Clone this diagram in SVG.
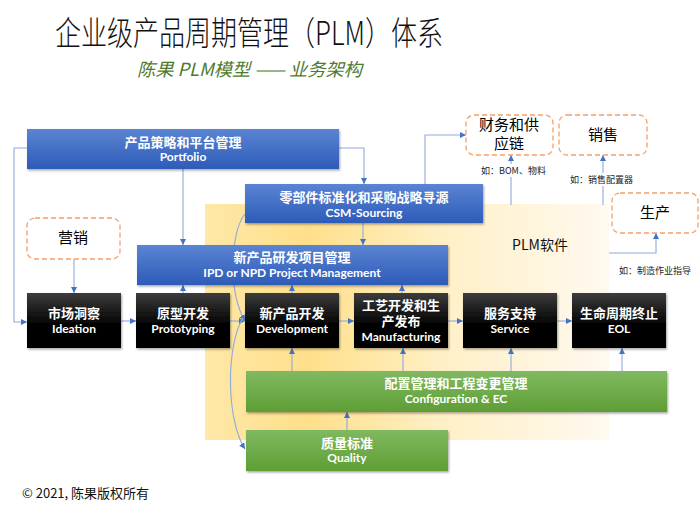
<svg xmlns="http://www.w3.org/2000/svg" width="700" height="512" viewBox="0 0 700 512">
<defs>
<style>
.cn{font-family:"Noto Sans CJK SC",sans-serif;}
.bx{font-family:Lato,"Noto Sans CJK SC",sans-serif;font-weight:bold;fill:#fff;text-anchor:middle;}
.zh{font-size:13px;}
.en{font-size:12px;}
.dash{fill:#fff;stroke:#f4a06a;stroke-width:1.3;stroke-dasharray:5 3;}
.dl{font-family:"Noto Sans CJK SC",sans-serif;font-size:15px;fill:#000;text-anchor:middle;}
.sm{font-family:"Noto Sans CJK SC",sans-serif;font-size:9px;fill:#222;}
.c{fill:none;stroke:#8eaadb;stroke-width:1.1;}
.a{marker-end:url(#ar);}
</style>
<linearGradient id="gb" x1="0" y1="0" x2="0" y2="1"><stop offset="0" stop-color="#5b84d3"/><stop offset="1" stop-color="#2d5bb8"/></linearGradient>
<linearGradient id="gk" x1="0" y1="0" x2="0" y2="1"><stop offset="0" stop-color="#3c3c3c"/><stop offset="0.55" stop-color="#050505"/><stop offset="1" stop-color="#000"/></linearGradient>
<linearGradient id="gg" x1="0" y1="0" x2="0" y2="1"><stop offset="0" stop-color="#80b960"/><stop offset="1" stop-color="#5e9e34"/></linearGradient>
<linearGradient id="gy" x1="0" y1="0" x2="1" y2="0"><stop offset="0" stop-color="#fee8a8"/><stop offset="0.25" stop-color="#ffdf8a"/><stop offset="0.6" stop-color="#fff0c8"/><stop offset="1" stop-color="#fffaf0"/></linearGradient>
<filter id="sh" x="-5%" y="-10%" width="110%" height="130%"><feDropShadow dx="1" dy="1.5" stdDeviation="1" flood-color="#000" flood-opacity="0.35"/></filter>
<marker id="ar" markerWidth="6" markerHeight="6" refX="6" refY="3" orient="auto" markerUnits="userSpaceOnUse"><path d="M0,0 L6,3 L0,6 z" fill="#4472c4"/></marker>
</defs>
<rect width="700" height="512" fill="#fff"/>

<g id="title">
<text x="55" y="45" class="cn" font-size="33" font-weight="300" textLength="388" lengthAdjust="spacingAndGlyphs" fill="#111">企业级产品周期管理（PLM）体系</text>
<text x="137" y="76" class="cn" font-size="18" font-style="italic" textLength="225" lengthAdjust="spacingAndGlyphs" fill="#4f7a2e">陈果 PLM模型 —— 业务架构</text>
</g>

<g id="plm-area">
<rect x="205" y="204" width="404" height="236" fill="url(#gy)"/>
<text x="540" y="250" class="cn" font-size="14" text-anchor="middle" fill="#111">PLM软件</text>
</g>

<g id="connectors">
<path class="c a" d="M27,148 H14 V322 H27"/>
<path class="c a" d="M339,148 H364 V184"/>
<path class="c a" d="M183,169 V245"/>
<path class="c a" d="M363,223 V245"/>
<path class="c a" d="M425,184 V135 H466"/>
<path class="c a" d="M511,205 V155"/>
<path class="c a" d="M603,205 V155"/>
<path class="c a" d="M609,253 H656 V233"/>
<path class="c a" d="M74,259 V293"/>
<path class="c a" d="M121,321 H136"/>
<path class="c a" d="M230,321 H245"/>
<path class="c a" d="M339,321 H354"/>
<path class="c a" d="M448,321 H463"/>
<path class="c a" d="M557,321 H572"/>
<path class="c a" d="M183,293 V285"/>
<path class="c a" d="M292,293 V285"/>
<path class="c a" d="M402,293 V285"/>
<path class="c a" d="M292,371 V348"/>
<path class="c a" d="M403,371 V348"/>
<path class="c a" d="M511,371 V348"/>
<path class="c a" d="M622,371 V348"/>
<path class="c a" d="M347,430 V412"/>
<path class="c a" d="M245,214 C230,232 228,292 245,321"/>
<path class="c a" d="M243,318 C226,345 226,420 245,449"/>
</g>

<g id="notes">
<rect x="479" y="164" width="66" height="13" fill="#fff"/>
<text x="481" y="174" class="sm">如：BOM、物料</text>
<rect x="568" y="173" width="66" height="13" fill="#fff"/>
<text x="570" y="183" class="sm">如：销售配置器</text>
<text x="619" y="274" class="sm">如：制造作业指导</text>
</g>

<g id="portfolio">
<rect x="27" y="129" width="312" height="40" fill="url(#gb)" filter="url(#sh)"/>
<text x="183" y="147" class="bx zh">产品策略和平台管理</text>
<text x="183" y="161" class="bx en">Portfolio</text>
</g>
<g id="csm">
<rect x="245" y="184" width="238" height="39" fill="url(#gb)" filter="url(#sh)"/>
<text x="364" y="202" class="bx zh">零部件标准化和采购战略寻源</text>
<text x="364" y="217" class="bx en">CSM-Sourcing</text>
</g>
<g id="npd">
<rect x="137" y="245" width="311" height="40" fill="url(#gb)" filter="url(#sh)"/>
<text x="292" y="262" class="bx zh">新产品研发项目管理</text>
<text x="292" y="277" class="bx en">IPD or NPD Project Management</text>
</g>

<g id="finance">
<rect x="466" y="115" width="87" height="40" rx="8" class="dash"/>
<text x="509" y="130" class="dl" font-size="14">财务和供</text>
<text x="509" y="149" class="dl" font-size="14">应链</text>
</g>
<g id="sales">
<rect x="559" y="115" width="88" height="40" rx="8" class="dash"/>
<text x="603" y="140" class="dl">销售</text>
</g>
<g id="production">
<rect x="612" y="193" width="86" height="40" rx="8" class="dash"/>
<text x="655" y="218" class="dl">生产</text>
</g>
<g id="marketing">
<rect x="27" y="218" width="93" height="41" rx="8" class="dash"/>
<text x="73" y="243" class="dl">营销</text>
</g>

<g id="ideation">
<rect x="27" y="293" width="94" height="55" fill="url(#gk)" filter="url(#sh)"/>
<text x="74" y="318" class="bx zh">市场洞察</text>
<text x="74" y="333" class="bx en">Ideation</text>
</g>
<g id="prototyping">
<rect x="136" y="293" width="94" height="55" fill="url(#gk)" filter="url(#sh)"/>
<text x="183" y="318" class="bx zh">原型开发</text>
<text x="183" y="333" class="bx en">Prototyping</text>
</g>
<g id="development">
<rect x="245" y="293" width="94" height="55" fill="url(#gk)" filter="url(#sh)"/>
<text x="292" y="318" class="bx zh">新产品开发</text>
<text x="292" y="333" class="bx en">Development</text>
</g>
<g id="manufacturing">
<rect x="354" y="293" width="94" height="55" fill="url(#gk)" filter="url(#sh)"/>
<text x="401" y="310" class="bx zh">工艺开发和生</text>
<text x="401" y="326" class="bx zh">产发布</text>
<text x="401" y="341" class="bx en">Manufacturing</text>
</g>
<g id="service">
<rect x="463" y="293" width="94" height="55" fill="url(#gk)" filter="url(#sh)"/>
<text x="510" y="318" class="bx zh">服务支持</text>
<text x="510" y="333" class="bx en">Service</text>
</g>
<g id="eol">
<rect x="572" y="293" width="94" height="55" fill="url(#gk)" filter="url(#sh)"/>
<text x="619" y="318" class="bx zh">生命周期终止</text>
<text x="619" y="333" class="bx en">EOL</text>
</g>

<g id="config">
<rect x="246" y="371" width="421" height="41" fill="url(#gg)" filter="url(#sh)"/>
<text x="456" y="388" class="bx zh">配置管理和工程变更管理</text>
<text x="456" y="403" class="bx en">Configuration &amp; EC</text>
</g>
<g id="quality">
<rect x="246" y="430" width="202" height="41" fill="url(#gg)" filter="url(#sh)"/>
<text x="347" y="448" class="bx zh">质量标准</text>
<text x="347" y="462" class="bx en">Quality</text>
</g>

<text x="22" y="498" class="cn" font-size="13" fill="#111">© 2021, 陈果版权所有</text>
</svg>
